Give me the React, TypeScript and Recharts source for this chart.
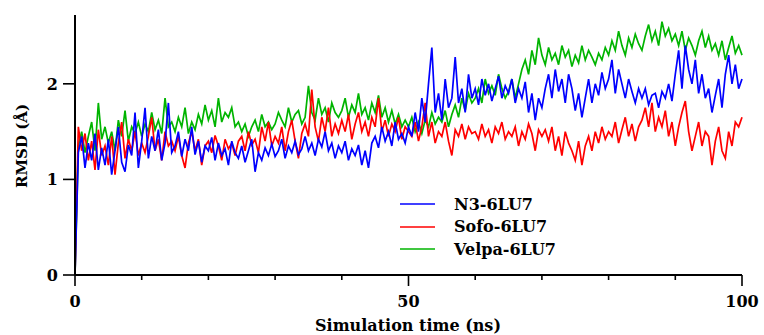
import React from 'react'
import { LineChart, Line, XAxis, YAxis, Legend } from 'recharts'

// RMSD traces, sampled every 0.5 ns from 0 to 100 ns
const N3 = [
  0, 1.28, 1.45, 1.12, 1.38, 1.2, 1.48, 1.1, 1.33, 1.15,
  1.42, 1.05, 1.3, 1.55, 1.18, 1.08, 1.36, 1.25, 1.7, 1.12,
  1.4, 1.75, 1.22, 1.45, 1.3, 1.52, 1.2, 1.38, 1.8, 1.28,
  1.35, 1.5, 1.24, 1.42, 1.3, 1.55, 1.26, 1.4, 1.18, 1.35,
  1.3, 1.44, 1.2, 1.38, 1.25, 1.32, 1.15, 1.4, 1.28, 1.22,
  1.35, 1.18, 1.3, 1.42, 1.08, 1.28, 1.2, 1.33, 1.25, 1.37,
  1.24, 1.3, 1.42, 1.22, 1.35, 1.28, 1.4, 1.26, 1.32, 1.45,
  1.3, 1.38, 1.25, 1.42, 1.34, 1.5, 1.3, 1.38, 1.22, 1.35,
  1.28, 1.4, 1.2, 1.32, 1.25, 1.36, 1.15, 1.3, 1.12, 1.38,
  1.45, 1.33, 1.55, 1.4, 1.5, 1.35, 1.6, 1.42, 1.48, 1.38,
  1.55, 1.45, 1.7, 1.5, 1.85, 1.6, 2.0, 2.38, 1.7, 1.9,
  1.62, 2.05, 1.75, 1.85, 2.28, 1.8, 1.95, 1.7, 2.1, 1.85,
  1.95, 1.78, 2.05, 1.88, 2.0, 1.82, 1.95, 2.08, 1.85, 1.98,
  1.9, 2.05, 1.8, 1.95, 1.85, 2.02, 1.7, 1.9, 1.62, 1.85,
  1.75, 1.95, 2.1, 1.85, 2.15, 1.92, 2.05, 1.8, 2.1, 1.95,
  1.72, 1.9, 1.65, 1.85, 2.05, 1.8, 2.0, 1.88, 2.12, 1.95,
  2.05, 2.25, 1.9, 2.15, 2.0, 1.85, 2.05, 1.92, 1.8, 1.95,
  1.85, 1.95, 1.78, 1.88, 1.9, 1.75, 1.92, 1.85, 2.0, 1.82,
  2.1, 2.35, 1.95, 2.4, 2.15, 2.0, 2.25, 1.9, 2.1, 1.85,
  1.95, 1.7, 1.88, 2.05, 1.75, 2.1, 2.3, 2.0, 2.2, 1.95,
  2.05,
]

const SOFO = [
  0, 1.55, 1.3, 1.48, 1.2, 1.4, 1.1, 1.52, 1.25, 1.35,
  1.15, 1.45, 1.05, 1.38, 1.6, 1.22, 1.42, 1.3, 1.5, 1.25,
  1.38, 1.28, 1.45, 1.65, 1.3, 1.42, 1.2, 1.5, 1.35, 1.4,
  1.3, 1.45, 1.25, 1.12, 1.38, 1.5, 1.3, 1.42, 1.15, 1.35,
  1.4, 1.28, 1.46, 1.35, 1.2, 1.42, 1.32, 1.38, 1.25, 1.4,
  1.45, 1.3, 1.5, 1.36, 1.42, 1.28, 1.55, 1.4, 1.6, 1.35,
  1.45, 1.38, 1.55, 1.3, 1.5, 1.62, 1.4, 1.22, 1.48, 1.58,
  1.45, 1.94, 1.55, 1.4, 1.65, 1.5, 1.75, 1.45, 1.58, 1.48,
  1.62, 1.5, 1.68, 1.42, 1.58, 1.7, 1.5, 1.6, 1.45, 1.65,
  1.55, 1.85, 1.5, 1.62, 1.45, 1.58, 1.5, 1.65, 1.42, 1.55,
  1.5, 1.45, 1.6, 1.4, 1.55, 1.8, 1.45, 1.6, 1.38, 1.5,
  1.45, 1.6, 1.4, 1.25, 1.52, 1.45, 1.58, 1.42, 1.55, 1.48,
  1.5, 1.42, 1.58, 1.45, 1.52, 1.38, 1.55, 1.48, 1.6, 1.42,
  1.5, 1.45, 1.55, 1.35, 1.5, 1.42, 1.58, 1.48, 1.3, 1.52,
  1.45, 1.52, 1.4, 1.55, 1.3, 1.45, 1.25, 1.5, 1.38, 1.3,
  1.2, 1.4, 1.15, 1.35, 1.45, 1.3, 1.5, 1.38, 1.55, 1.42,
  1.5, 1.45, 1.6, 1.38, 1.52, 1.65, 1.45, 1.58, 1.4, 1.55,
  1.62, 1.75, 1.55, 1.8, 1.5, 1.65, 1.55, 1.72, 1.45, 1.6,
  1.35, 1.55, 1.7, 1.82, 1.5, 1.3, 1.45, 1.6, 1.35, 1.5,
  1.45, 1.15, 1.4, 1.55, 1.3, 1.22, 1.5, 1.35, 1.6, 1.55,
  1.65,
]

const VELPA = [
  0, 1.35, 1.5, 1.28, 1.45, 1.6, 1.3, 1.8, 1.42, 1.55,
  1.38, 1.5, 1.3, 1.62, 1.45, 1.72, 1.4, 1.55, 1.48, 1.6,
  1.45, 1.58, 1.5, 1.7, 1.52, 1.62, 1.48, 1.85, 1.55, 1.6,
  1.5, 1.65, 1.55, 1.75, 1.48, 1.6, 1.52, 1.68, 1.58, 1.78,
  1.62, 1.72, 1.55, 1.85, 1.6, 1.7, 1.65, 1.75, 1.55, 1.6,
  1.5, 1.58, 1.45, 1.55, 1.62, 1.5, 1.68, 1.55, 1.6, 1.52,
  1.58, 1.7, 1.62, 1.55, 1.75, 1.6, 1.68, 1.72, 1.58, 1.65,
  1.98, 1.7, 1.62, 1.85, 1.68, 1.75, 1.6, 1.8, 1.7, 1.65,
  1.72, 1.85, 1.65, 1.78, 1.7, 1.9, 1.68, 1.75, 1.62, 1.8,
  1.7, 1.88, 1.65, 1.75, 1.6, 1.72, 1.58, 1.68, 1.55, 1.62,
  1.55, 1.65, 1.5, 1.6, 1.48, 1.62, 1.55, 1.7, 1.58, 1.65,
  1.6, 1.72, 1.55, 1.68, 1.78, 1.65, 1.85, 1.72, 1.9, 1.8,
  1.85, 1.95, 1.8, 2.05, 1.9, 1.98, 1.88, 2.1, 1.95, 1.85,
  1.92, 2.05, 1.85, 2.0, 2.15, 2.25, 2.1, 2.35, 2.2, 2.48,
  2.3, 2.2, 2.38, 2.25, 2.32, 2.2, 2.4, 2.28, 2.35, 2.18,
  2.3, 2.22, 2.4, 2.25, 2.35, 2.28, 2.2, 2.32, 2.25, 2.38,
  2.3, 2.45, 2.35, 2.55, 2.4, 2.3, 2.48, 2.38, 2.52, 2.42,
  2.35, 2.5, 2.62, 2.45, 2.55, 2.4, 2.65, 2.5, 2.58, 2.45,
  2.52, 2.4, 2.55, 2.35, 2.48, 2.4, 2.3, 2.45, 2.55, 2.38,
  2.5, 2.35, 2.42, 2.3, 2.45, 2.25, 2.38, 2.5, 2.32, 2.4,
  2.3,
]

const X_TICKS = [0, 10, 20, 30, 40, 50, 60, 70, 80, 90, 100]
const X_LABELS = [0, 50, 100]
const Y_TICKS = [0, 1, 2]

const SERIES = [
  { key: 'n3', name: 'N3-6LU7', color: '#0000ff' },
  { key: 'sofo', name: 'Sofo-6LU7', color: '#ff0000' },
  { key: 'velpa', name: 'Velpa-6LU7', color: '#00b400' },
]

const data = N3.map((v, i) => ({ t: i * 0.5, n3: v, sofo: SOFO[i], velpa: VELPA[i] }))

const FONT = '"DejaVu Serif", serif'

function XTick({ x, y, payload }: any) {
  const major = X_LABELS.includes(payload.value)
  return (
    <g>
      <line x1={x} x2={x} y1={y} y2={y + (major ? 11 : 5)} stroke="#000" strokeWidth={1.6} />
      {major && (
        <text x={x} y={y + 32} textAnchor="middle" fontFamily={FONT} fontWeight="bold" fontSize={16} fill="#000">
          {payload.value}
        </text>
      )}
    </g>
  )
}

function YTick({ x, y, payload }: any) {
  return (
    <g>
      <line x1={x - 12} x2={x} y1={y} y2={y} stroke="#000" strokeWidth={1.6} />
      <text x={x - 17} y={y + 6} textAnchor="end" fontFamily={FONT} fontWeight="bold" fontSize={16} fill="#000">
        {payload.value}
      </text>
    </g>
  )
}

function LegendBox() {
  return (
    <div style={{ fontFamily: FONT, fontWeight: 'bold', fontSize: 16, color: '#000' }}>
      {SERIES.map((s) => (
        <div key={s.key} style={{ display: 'flex', alignItems: 'center', height: 22.5 }}>
          <svg width={35} height={4} style={{ marginRight: 19 }}>
            <line x1={0} x2={35} y1={2} y2={2} stroke={s.color} strokeWidth={1.3} />
          </svg>
          <span>{s.name}</span>
        </div>
      ))}
    </div>
  )
}

export default function App() {
  return (
    <div style={{ position: 'absolute', left: 0, top: 0, background: '#fff' }}>
      <LineChart width={764} height={335} data={data} margin={{ top: 15, right: 22, bottom: 0, left: 0 }}>
        <XAxis
          dataKey="t"
          type="number"
          domain={[0, 100]}
          ticks={X_TICKS}
          tick={<XTick />}
          tickLine={false}
          tickSize={0}
          tickMargin={0}
          interval={0}
          height={60}
          axisLine={{ stroke: '#000', strokeWidth: 2 }}
          label={{
            content: () => (
              <text x={408} y={331} textAnchor="middle" fontFamily={FONT} fontWeight="bold" fontSize={16} fill="#000">
                Simulation time (ns)
              </text>
            ),
          }}
        />
        <YAxis
          type="number"
          domain={[0, 2.72]}
          ticks={Y_TICKS}
          tick={<YTick />}
          tickLine={false}
          tickSize={0}
          tickMargin={0}
          width={75}
          axisLine={{ stroke: '#000', strokeWidth: 2 }}
          label={{
            content: () => (
              <text
                x={22}
                y={146}
                transform="rotate(-90 22 146)"
                dy={5}
                textAnchor="middle"
                fontFamily={FONT}
                fontWeight="bold"
                fontSize={15}
                fill="#000"
              >
                RMSD (Å)
              </text>
            ),
          }}
        />
        <Legend
          layout="vertical"
          align="center"
          verticalAlign="middle"
          content={() => <LegendBox />}
          wrapperStyle={{ left: 400, top: 193, width: 'auto' }}
        />
        {[...SERIES].reverse().map((s) => (
          <Line
            key={s.key}
            dataKey={s.key}
            name={s.name}
            stroke={s.color}
            strokeWidth={1.7}
            dot={false}
            type="linear"
            isAnimationActive={false}
          />
        ))}
      </LineChart>
    </div>
  )
}
